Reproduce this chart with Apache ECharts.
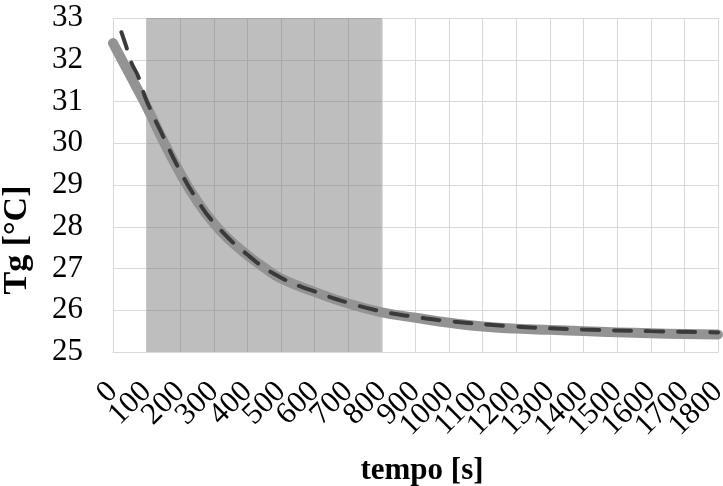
<!DOCTYPE html>
<html>
<head>
    <meta charset="utf-8">
    <script src="https://cdn.jsdelivr.net/npm/echarts@6/dist/echarts.min.js"></script>
    <style>
        body { margin: 0; background: #fff; }
        #chart { width: 723px; height: 486px; }
    </style>
</head>
<body>
    <div id="chart"></div>
    <script type="text/javascript">
        // tempo [s] e Tg [°C]
        var tempoA = [0, 50, 100, 150, 200, 250, 300, 350, 400, 450, 500, 600, 700, 800, 900, 1000, 1100, 1200, 1300, 1400, 1500, 1600, 1700, 1800];
        var tgA = [32.40, 31.64, 30.88, 30.05, 29.28, 28.62, 28.08, 27.66, 27.32, 27.02, 26.76, 26.44, 26.16, 25.95, 25.82, 25.70, 25.61, 25.56, 25.53, 25.50, 25.47, 25.45, 25.43, 25.42];

        var tempoB = [25, 40, 55, 75, 100, 150, 200, 250, 300, 400, 500, 600, 700, 800, 900, 1000, 1200, 1400, 1600, 1800];
        var tgB = [32.66, 32.30, 31.92, 31.60, 31.02, 30.15, 29.33, 28.65, 28.10, 27.33, 26.78, 26.45, 26.18, 25.97, 25.84, 25.74, 25.61, 25.54, 25.50, 25.47];

        // intervallo evidenziato
        var zona = [100, 800];

        function coppie(xs, ys) {
            var out = [];
            for (var i = 0; i < xs.length; i++) out.push([xs[i], ys[i]]);
            return out;
        }

        var font = 'Liberation Serif, Times New Roman, serif';
        var labelX = {
            rotate: 45, margin: 35, fontFamily: font, fontSize: 31, color: '#000',
            hideOverlap: false,
            formatter: function (v) { return String(v); }
        };
        var myChart = echarts.init(document.getElementById('chart'), null, { renderer: 'canvas' });

        myChart.setOption({
            animation: false,
            grid: { left: 113, top: 18, right: 5, bottom: 134, outerBoundsMode: 'none', containLabel: false },
            xAxis: [
                {
                    // etichette interne 100..1700
                    type: 'value',
                    min: 0, max: 1800, interval: 100,
                    axisLine: { show: true, lineStyle: { color: '#d9d9d9' } },
                    axisTick: { show: false },
                    splitLine: { show: true, lineStyle: { color: '#d9d9d9', width: 1 } },
                    axisLabel: Object.assign({ showMinLabel: false, showMaxLabel: false }, labelX)
                },
                {
                    // solo 0 e 1800
                    type: 'value', position: 'bottom',
                    min: 0, max: 1800, interval: 1800,
                    axisLine: { show: false },
                    axisTick: { show: false },
                    splitLine: { show: false },
                    axisLabel: Object.assign({ showMinLabel: true, showMaxLabel: true }, labelX)
                }
            ],
            yAxis: {
                type: 'value',
                min: 25, max: 33, interval: 1,
                axisLine: { show: true, lineStyle: { color: '#d9d9d9' } },
                axisTick: { show: false },
                splitLine: { show: true, lineStyle: { color: '#d9d9d9', width: 1 } },
                axisLabel: { margin: 30, fontFamily: font, fontSize: 31, color: '#000' }
            },
            graphic: [
                {
                    type: 'text', x: 17, y: 240, rotation: Math.PI / 2,
                    style: { text: 'Tg [°C]', font: 'bold 34px ' + font, fill: '#000', align: 'center', verticalAlign: 'middle' }
                },
                {
                    type: 'text', x: 422, y: 471,
                    style: { text: 'tempo [s]', font: 'bold 31px ' + font, fill: '#000', align: 'center', verticalAlign: 'middle' }
                }
            ],
            series: [
                {
                    type: 'line', data: [], z: 1, silent: true,
                    markArea: {
                        silent: true,
                        itemStyle: { color: 'rgba(110,110,110,0.45)' },
                        data: [[{ xAxis: zona[0] }, { xAxis: zona[1] }]]
                    }
                },
                {
                    name: 'A', type: 'line', z: 2, smooth: true, showSymbol: false,
                    data: coppie(tempoA, tgA),
                    lineStyle: { color: '#939393', width: 10, cap: 'round', join: 'round' }
                },
                {
                    name: 'B', type: 'line', z: 3, smooth: true, showSymbol: false,
                    data: coppie(tempoB, tgB),
                    lineStyle: { color: '#3a3a3a', width: 4, type: [17, 15], cap: 'round' }
                }
            ]
        });
    </script>
</body>
</html>
